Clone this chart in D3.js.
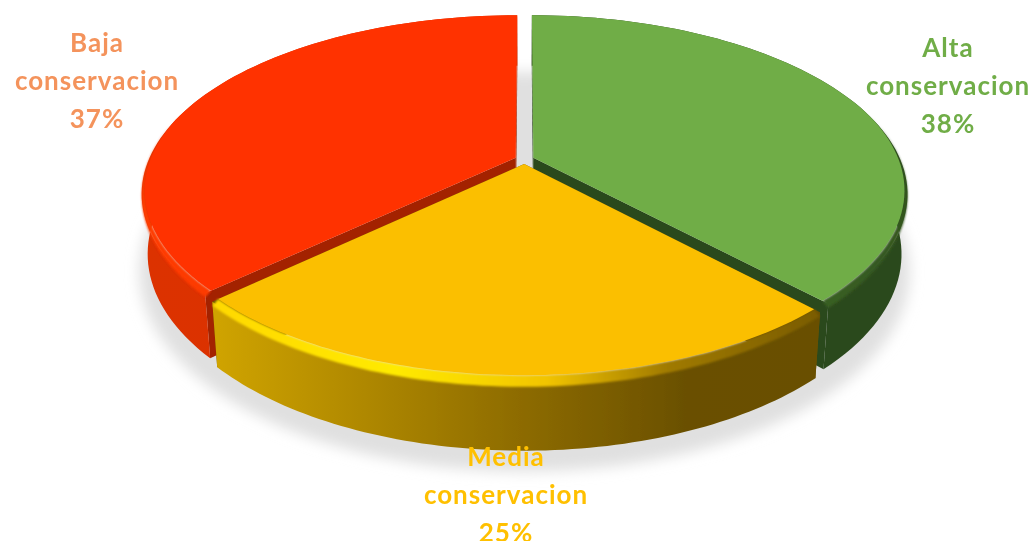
<!DOCTYPE html>
<html>
<head>
<meta charset="utf-8">
<script src="https://cdn.jsdelivr.net/npm/d3@7"></script>
<style>
  html, body { margin: 0; padding: 0; background: #fff; }
  svg { display: block; }
  .label { font-family: Lato, "Open Sans", sans-serif; font-weight: 700; font-size: 26px; letter-spacing: 1px; text-anchor: middle; }
</style>
</head>
<body>
<div id="chart"></div>
<script>
// Chart data
const categories = ['Alta conservacion', 'Media conservacion', 'Baja conservacion']
const values = [38, 25, 37]

// Colours per slice: top face, rim, side wall, cut face, label
const topColors = ['#70ad47', '#fbbf00', '#ff3300']
const cutColors = ['#2c4a1e', '#6a5000', '#a32000']
const labelColors = ['#70ad47', '#ffc000', '#f4935b']
const wallStops = [
  [[0, '#2c4a1e'], [1, '#2c4a1e']],
  [[0, '#d0a400'], [0.5, '#8e6c00'], [0.78, '#6a5000'], [1, '#695000']],
  [[0, '#dc3000'], [1, '#d93000']]
]
const rimStops = [
  [[0, '#4f8030'], [1, '#33561f']],
  [[0, '#ffd800'], [0.3, '#ffea00'], [0.55, '#f2c400'], [0.75, '#a07a00'], [1, '#7a5c00']],
  [[0, '#ff3c00'], [1, '#f03400']]
]

// Label centres: first line, in page pixels
const labelAnchors = [[948, 48], [506, 457], [97, 43]]
const labelLeading = 38

const width = 1035
const height = 541

// Projection of the tilted disc
const originX = 524.5
const originY = 159.5
const radius = 367
const squash = 171.7
const depth = 59
const perspective = 0.2
const depthShrink = 0.016
const explode = 0.026
const rimWidth = 0.022
const rimHeight = 0.08

function project(angle, r, z, mid) {
  const x = r * Math.sin(angle) + explode * Math.sin(mid)
  const t = -r * Math.cos(angle) - explode * Math.cos(mid)
  const w = (1 - perspective * t) * (1 + depthShrink * z)
  return [originX + radius * x / w, originY + (squash * t + depth * z) / w]
}

// The rim only shows on the side that faces the viewer
const rimFacing = (a) => Math.max(0, (0.25 - Math.cos(a)) / 1.25)
const rimInner = (a) => 1 - rimWidth * rimFacing(a)
const rimDrop = (a) => rimHeight * rimFacing(a)

const svg = d3.select('#chart')
  .append('svg')
  .attr('width', width)
  .attr('height', height)
  .attr('viewBox', `0 0 ${width} ${height}`)

const defs = svg.append('defs')

function addBlur(id, amount) {
  defs.append('filter')
    .attr('id', id)
    .attr('x', '-10%').attr('y', '-10%')
    .attr('width', '120%').attr('height', '120%')
    .append('feGaussianBlur')
    .attr('stdDeviation', amount)
}
addBlur('blur-shadow', 7)
addBlur('blur-rim', 1.3)
addBlur('blur-soft', 0.7)
addBlur('blur-text', 0.45)

function addGradient(id, stops) {
  const grad = defs.append('linearGradient')
    .attr('id', id)
    .attr('x1', 0).attr('x2', 1).attr('y1', 0).attr('y2', 0)
  stops.forEach(s => grad.append('stop').attr('offset', s[0]).attr('stop-color', s[1]))
}
wallStops.forEach((s, i) => addGradient(`wall-${i}`, s))
rimStops.forEach((s, i) => addGradient(`rim-${i}`, s))

const pie = d3.pie().sort(null).value(d => d)
const slices = pie(values).map((d, i) => ({
  index: i,
  start: d.startAngle,
  end: d.endAngle,
  mid: (d.startAngle + d.endAngle) / 2
}))

const line = d3.line()
const sweep = (s) => d3.range(0, 81).map(i => s.start + (s.end - s.start) * i / 80)

// Shadow on the floor under the whole pie
const shadowAngles = d3.range(0, 181).map(i => i * Math.PI / 90)
svg.append('path')
  .attr('d', line(shadowAngles.map(a => project(a, 1.02, 1.22, a))) + 'Z')
  .attr('fill', '#e0e0e0')
  .attr('filter', 'url(#blur-shadow)')

function drawSlice(s) {
  const g = svg.append('g').attr('filter', 'url(#blur-soft)')
  const angles = sweep(s)

  // Cut face along the slice's end edges
  ;[s.start, s.end].forEach(a => {
    const face = [
      project(a, 0, 0, s.mid),
      project(a, 1, 0, s.mid),
      project(a, 1, 1, s.mid),
      project(a, 0, 1, s.mid)
    ]
    g.append('path')
      .attr('d', line(face) + 'Z')
      .attr('fill', cutColors[s.index])
  })

  // Outer wall
  const wall = angles.map(a => project(a, 1, 0, s.mid))
    .concat(angles.slice().reverse().map(a => project(a, 1, 1, s.mid)))
  g.append('path')
    .attr('d', line(wall) + 'Z')
    .attr('fill', `url(#wall-${s.index})`)

  // Rounded rim between wall and top face
  const rim = angles.map(a => project(a, rimInner(a), 0, s.mid))
    .concat(angles.slice().reverse().map(a => project(a, 1, rimDrop(a), s.mid)))
  g.append('path')
    .attr('d', line(rim) + 'Z')
    .attr('fill', `url(#rim-${s.index})`)
    .attr('filter', 'url(#blur-rim)')

  // Top face
  const top = [project(s.start, 0, 0, s.mid)]
    .concat(angles.map(a => project(a, rimInner(a), 0, s.mid)))
  g.append('path')
    .attr('d', line(top) + 'Z')
    .attr('fill', topColors[s.index])
}

// Back slices first, the front slice sits over them
drawSlice(slices[0])
drawSlice(slices[2])
drawSlice(slices[1])

// Labels
const total = d3.sum(values)
const pct = d3.format('.0%')
categories.forEach((name, i) => {
  const lines = name.split(' ').concat(pct(values[i] / total))
  const text = svg.append('text')
    .attr('class', 'label')
    .attr('fill', labelColors[i])
    .attr('filter', 'url(#blur-text)')
  lines.forEach((l, j) => {
    text.append('tspan')
      .attr('x', labelAnchors[i][0])
      .attr('y', labelAnchors[i][1] + j * labelLeading)
      .attr('dy', '0.35em')
      .text(l)
  })
})
</script>
</body>
</html>
